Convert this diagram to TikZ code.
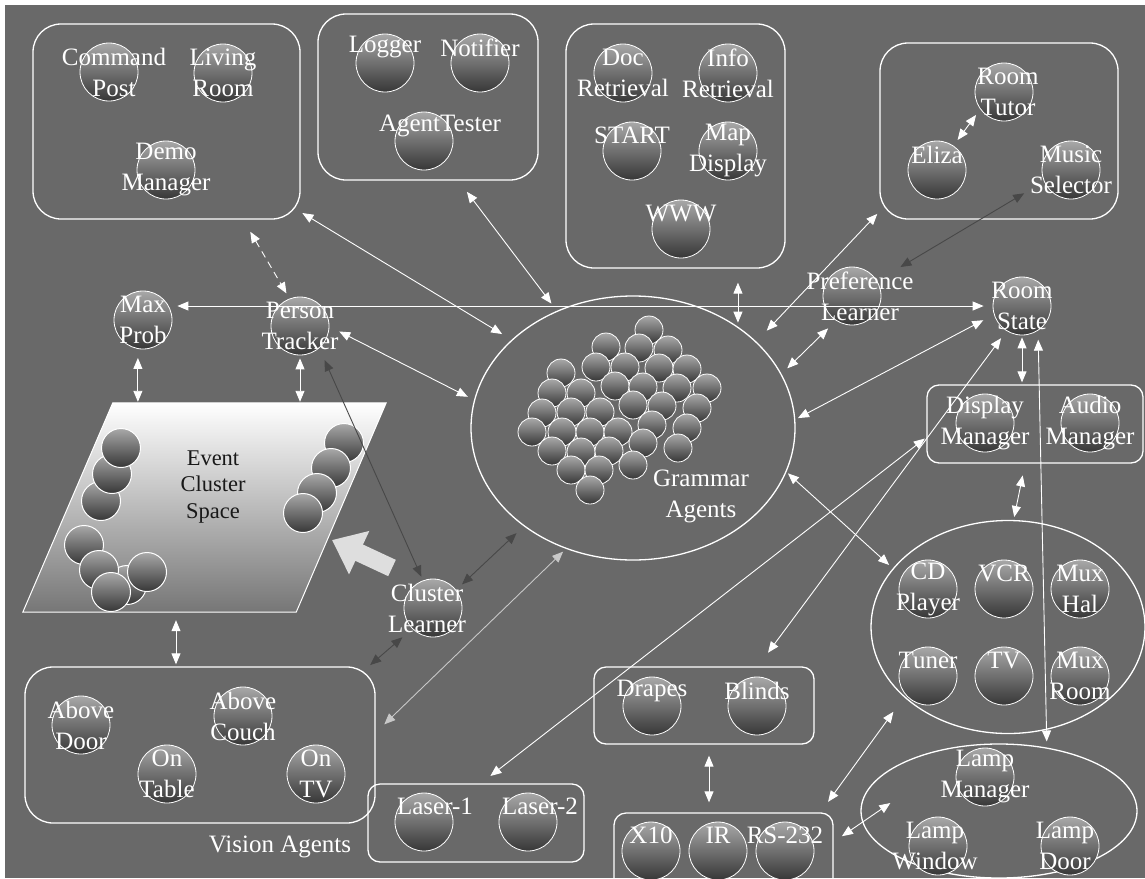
\documentclass[tikz,border=0pt]{standalone}
\usepackage{fontspec}
\setmainfont{Liberation Serif}
\usetikzlibrary{arrows.meta, shapes.geometric}
\definecolor{canvasGray}{RGB}{105,105,105}
\definecolor{ballTop}{RGB}{168,168,168}
\definecolor{ballBot}{RGB}{55,55,55}
\definecolor{linkDark}{RGB}{72,72,72}
\definecolor{linkLight}{RGB}{200,200,200}
\definecolor{arrowFill}{RGB}{222,222,222}
\definecolor{spaceBot}{RGB}{118,118,118}
\definecolor{textDark}{RGB}{25,25,25}
\newcommand\agentsize{\fontsize{25}{31}\selectfont}
\newcommand\spacesize{\fontsize{22.5}{26.5}\selectfont}

\begin{document}
\begin{tikzpicture}[x=1pt, y=-1pt,
    >={Triangle[length=11pt,width=9pt]},
    agent/.style={circle, draw=white, line width=0.8pt, minimum size=58pt,
        inner sep=0pt, top color=ballTop, bottom color=ballBot},
    grain/.style={agent, minimum size=28pt},
    blob/.style={agent, minimum size=39pt, line width=1pt},
    agenttext/.style={font=\agentsize, text=white, align=center, inner sep=0pt},
    onetext/.style={agenttext, yshift=15.5pt},
    spacetext/.style={font=\spacesize, text=textDark, align=center, inner sep=0pt},
    group/.style={draw=white, line width=1.3pt, rounded corners=28pt, inner sep=0pt},
    smallgroup/.style={group, rounded corners=12pt},
    oval/.style={ellipse, draw=white, line width=1.3pt, inner sep=0pt},
    link/.style={<->, draw=white, line width=0.9pt},
    darklink/.style={link, draw=linkDark},
    lightlink/.style={link, draw=linkLight},
    bigarrow/.style={-{Triangle[length=30pt,width=46pt]}, draw=arrowFill, line width=18pt}
]
\useasboundingbox (0,0) rectangle (1145,878);
\clip (0,0) rectangle (1145,878);
\fill[white] (0,0) rectangle (1145,878);
\fill[canvasGray] (5,5) rectangle (1145,878);

% top row of groups
\node[group, minimum width=267, minimum height=195] (gcmd) at (166.5,121.5) {};
\node[agent, label={[agenttext, xshift=5pt]center:Command\\Post}] (cmdpost) at (109,72) {};
\node[agent, label={[agenttext]center:Living\\Room}] (livingroom) at (223,73) {};
\node[agent, label={[agenttext]center:Demo\\Manager}] (demomgr) at (166,170) {};

\node[group, minimum width=220, minimum height=166] (gutil) at (428,97) {};
\node[agent, label={[onetext]center:Logger}] (logger) at (385,63) {};
\node[agent, label={[onetext]center:Notifier}] (notifier) at (480,63) {};
\node[agent, label={[onetext, xshift=16pt]center:AgentTester}] (tester) at (424,141) {};

\node[group, minimum width=219, minimum height=244] (gret) at (675.5,146) {};
\node[agent, label={[agenttext]center:Doc\\Retrieval}] (docret) at (623,73) {};
\node[agent, label={[agenttext]center:Info\\Retrieval}] (inforet) at (728,73) {};
\node[agent, label={[onetext]center:START}] (start) at (632,151) {};
\node[agent, label={[agenttext]center:Map\\Display}] (mapdisp) at (728,151) {};
\node[agent, label={[onetext]center:WWW}] (www) at (681,229) {};

\node[group, minimum width=238, minimum height=176] (gchat) at (999,131) {};
\node[agent, label={[agenttext, xshift=4pt]center:Room\\Tutor}] (roomtutor) at (1004,92) {};
\node[agent, label={[onetext]center:Eliza}] (eliza) at (937,170) {};
\node[agent, label={[agenttext]center:Music\\Selector}] (musicsel) at (1071,170) {};

% single agents
\node[agent, label={[agenttext]center:Max\\Prob}] (maxprob) at (143,320) {};
\node[agent, label={[agenttext]center:Person\\Tracker}] (tracker) at (300,326) {};
\node[agent, label={[agenttext, xshift=8pt]center:Preference\\Learner}] (pref) at (852,296) {};
\node[agent, label={[agenttext]center:Room\\State}] (roomstate) at (1022,306) {};

% event cluster space
\node[minimum width=363, minimum height=209, inner sep=0pt] (ecs) at (204.5,507.5) {};
\shade[top color=white, bottom color=spaceBot, draw=white, line width=1pt]
    ([xshift=90pt]ecs.north west) -- (ecs.north east)
    -- ([xshift=-90pt]ecs.south east) -- (ecs.south west) -- cycle;
\foreach \p [count=\i] in {(101,501),(112,474),(121,448),(84,545),(127,585),
    (147,572),(99,570),(111,592),(344,443),(331,468),(317,493),(303,513)}
    \node[blob] (blob\i) at \p {};
\node[spacetext] (ecstext) at (213,487) {Event\\Cluster\\Space};

\node[agent, label={[agenttext, xshift=-6pt]center:Cluster\\Learner}] (clusterl) at (433,608) {};
\draw[bigarrow] ([shift={(-41,-40)}]clusterl.center) -- ([shift={(-101,-68)}]clusterl.center);

% grammar agents
\node[oval, minimum width=324, minimum height=264] (gram) at (633,428) {};
\foreach \p [count=\i] in {(649,330),(606,347),(639,348),(668,350),(596,367),
    (625,367),(659,368),(687,369),(561,373),(707,388),(552,393),(581,393),
    (615,386),(643,387),(677,388),(662,406),(697,408),(542,413),(571,412),
    (600,412),(633,405),(532,432),(562,432),(590,432),(618,432),(652,425),
    (687,428),(552,451),(581,452),(609,451),(643,443),(678,448),(571,470),
    (599,470),(633,465),(590,490)}
    \node[grain] (grain\i) at \p {};
\node[agenttext] (gramtext) at (701,496) {Grammar\\Agents};

% devices
\node[smallgroup, minimum width=216, minimum height=78] (gdev) at (1035,424) {};
\node[agent, label={[agenttext]center:Display\\Manager}] (dispmgr) at (985,423) {};
\node[agent, label={[agenttext]center:Audio\\Manager}] (audiomgr) at (1090,423) {};

\node[oval, minimum width=274, minimum height=213] (gav) at (1008,627) {};
\node[agent, label={[agenttext]center:CD\\Player}] (cdplayer) at (928,589) {};
\node[agent, label={[onetext]center:VCR}] (vcr) at (1004,589) {};
\node[agent, label={[agenttext]center:Mux\\Hal}] (muxhal) at (1080,589) {};
\node[agent, label={[onetext]center:Tuner}] (tuner) at (928,676) {};
\node[agent, label={[onetext]center:TV}] (tv) at (1004,676) {};
\node[agent, label={[agenttext]center:Mux\\Room}] (muxroom) at (1080,676) {};

\node[smallgroup, minimum width=220, minimum height=77] (gwin) at (704,705.5) {};
\node[agent, label={[onetext]center:Drapes}] (drapes) at (652,706) {};
\node[agent, label={[onetext]center:Blinds}] (blinds) at (757,706) {};

\node[smallgroup, minimum width=219, minimum height=77] (gx10) at (723.5,851.5) {};
\node[agent, label={[onetext]center:X10}] (xten) at (651,851) {};
\node[agent, label={[onetext]center:IR}] (ir) at (718,851) {};
\node[agent, label={[onetext]center:RS-232}] (rsport) at (785,851) {};

\node[oval, minimum width=276, minimum height=134] (glamp) at (999,811) {};
\node[agent, label={[agenttext]center:Lamp\\Manager}] (lampmgr) at (985,777) {};
\node[agent, label={[agenttext, xshift=-3pt]center:Lamp\\Window}] (lampwin) at (938,846) {};
\node[agent, label={[agenttext, xshift=-5pt]center:Lamp\\Door}] (lampdoor) at (1070,846) {};

% vision and lasers
\node[group, minimum width=350, minimum height=156] (gvis) at (200,745) {};
\node[agent, label={[agenttext]center:Above\\Door}] (abovedoor) at (81,725) {};
\node[agent, label={[agenttext]center:Above\\Couch}] (abovecouch) at (243,716) {};
\node[agent, label={[agenttext]center:On\\Table}] (ontable) at (167,774) {};
\node[agent, label={[agenttext]center:On\\TV}] (ontv) at (316,774) {};
\node[agenttext] (visiontext) at (280,847) {Vision Agents};

\node[smallgroup, minimum width=216, minimum height=78] (glaser) at (476,823) {};
\node[agent, label={[onetext, xshift=11pt]center:Laser-1}] (laserone) at (424,822) {};
\node[agent, label={[onetext, xshift=12pt]center:Laser-2}] (lasertwo) at (528,822) {};

\coordinate (visin) at ([xshift=-24pt]gvis.north);
\coordinate (winout) at ([xshift=5pt]gwin.south);

% connectors
\draw[link, shorten <=2pt, shorten >=11pt] (gcmd.-34) -- (gram.144);
\draw[link, shorten <=14pt, shorten >=9pt] (gutil.-70) -- (gram.123);
\draw[link, shorten <=14pt, shorten >=4pt] (gret.south -| gram.44) -- (gram.44);
\draw[link, shorten <=3pt, shorten >=15pt] (gchat.-146) -- (gram.35);
\draw[link, shorten <=11pt, shorten >=8pt] (pref.-123) -- (gram.20);
\draw[link, shorten <=3pt, shorten >=12pt] (gram.3) -- (roomstate.-163);
\draw[link, shorten <=7pt, shorten >=9pt] (maxprob.21 |- roomstate.west) -- (roomstate.west);
\draw[link, dash pattern=on 7pt off 5pt, shorten <=14pt, shorten >=6pt] (gcmd.-52) -- (tracker.111);
\draw[link, shorten <=11pt, shorten >=7pt] (tracker.-1) -- (gram.170);
\draw[link, shorten <=9pt, shorten >=1pt] (maxprob.260) -- (maxprob.260 |- ecs.north);
\draw[link, shorten <=3pt, shorten >=1pt] (tracker.south) -- (tracker.south |- ecs.north);
\draw[link, shorten <=8pt, shorten >=2pt] (visin |- ecs.south) -- (visin);
\draw[darklink, shorten <=13pt, shorten >=4pt] (tracker.-49) -- (clusterl.110);
\draw[darklink, shorten <=8pt, shorten >=10pt] (clusterl.38) -- (gram.-138);
\draw[darklink, shorten <=13pt, shorten >=2pt] (clusterl.-135) -- (gvis.25);
\draw[lightlink, shorten <=4pt, shorten >=12pt] (gram.-119) -- (gvis.4);
\draw[link, shorten <=2pt, shorten >=12pt] (gdev.-173) -- (glaser.83);
\draw[link, shorten <=9pt, shorten >=17pt] (roomstate.-122) -- (gwin.36);
\draw[link, shorten <=2pt, shorten >=2pt] (roomstate.south) -- (roomstate.south |- gdev.north);
\draw[link, shorten <=9pt, shorten >=6pt] (roomstate.-57) -- (glamp.53);
\draw[link, shorten <=12pt, shorten >=3pt] (gdev.-104) -- (gav.87);
\draw[link, shorten <=2pt, shorten >=5pt] (gram.-16) -- (gav.153);
\draw[link, shorten <=11pt, shorten >=10pt] (winout) -- (winout |- gx10.north);
\draw[link, shorten <=13pt, shorten >=18pt] (gx10.22) -- (gav.-146);
\draw[link, shorten <=10pt] (gx10.5) -- ([shift={(30,-8)}]glamp.west);
\draw[link, shorten <=7pt, shorten >=7pt] (eliza.56) -- (roomtutor.-144);
\draw[darklink, shorten <=23pt, shorten >=27pt] (musicsel.-157) -- (pref.31);
\end{tikzpicture}
\end{document}
